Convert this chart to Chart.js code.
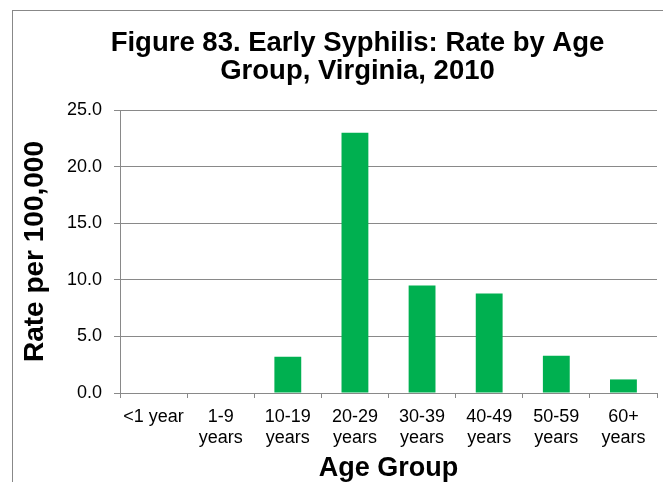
<!DOCTYPE html>
<html lang="en">
<head>
  <meta charset="UTF-8">
  <title>Early Syphilis: Rate by Age Group</title>
  <script src="https://cdn.jsdelivr.net/npm/chart.js"></script>
  <style>
    html, body { margin: 0; padding: 0; background: #ffffff; }
    .frame {
      position: absolute; left: 12px; top: 10px;
      width: 700px; height: 600px;
      border: 1px solid #888888;
    }
    canvas { position: absolute; left: 0; top: 0; }
  </style>
</head>
<body>
  <div class="frame"></div>
  <canvas id="ageChart" width="663" height="482"></canvas>

  <script>
    // Data
    const titleLines = ['Figure 83. Early Syphilis: Rate by Age', 'Group, Virginia, 2010'];
    const ageGroups = [
      '<1 year',
      ['1-9', 'years'],
      ['10-19', 'years'],
      ['20-29', 'years'],
      ['30-39', 'years'],
      ['40-49', 'years'],
      ['50-59', 'years'],
      ['60+', 'years']
    ];
    const rates = [0, 0, 3.2, 23.0, 9.5, 8.8, 3.3, 1.2];
    const yTickValues = [0, 5, 10, 15, 20, 25];

    const fontFamily = "'Liberation Sans', Arial, sans-serif";
    const gridGray = '#898989';

    // the original chart frame is wider than the crop, so the title is
    // centred on the frame (x 12..703) rather than on the canvas
    const titleShift = {
      id: 'titleShift',
      afterLayout: function(chart) {
        chart.titleBlock.left = 12;
        chart.titleBlock.right = 703;
      }
    };

    const ctx = document.getElementById('ageChart').getContext('2d');
    new Chart(ctx, {
      type: 'bar',
      data: {
        labels: ageGroups,
        datasets: [{
          label: 'Rate per 100,000',
          data: rates,
          backgroundColor: '#00B050',
          borderWidth: 0,
          barPercentage: 0.4,
          categoryPercentage: 1.0
        }]
      },
      plugins: [titleShift],
      options: {
        responsive: false,
        animation: false,
        layout: {
          padding: { top: 0, left: 0, right: 6, bottom: 0 }
        },
        plugins: {
          legend: { display: false },
          tooltip: { enabled: false },
          title: {
            display: true,
            text: titleLines,
            color: '#000000',
            font: { family: fontFamily, size: 27.5, weight: 'bold', lineHeight: 1.02 },
            padding: { top: 29, bottom: 25 }
          }
        },
        scales: {
          x: {
            afterFit: function(scale) { scale.height = 89; },
            grid: {
              drawOnChartArea: false,
              drawTicks: true,
              tickLength: 5,
              color: gridGray
            },
            border: { display: true, color: gridGray, width: 1 },
            ticks: {
              color: '#000000',
              font: { family: fontFamily, size: 18, lineHeight: 1.167 },
              padding: 9,
              maxRotation: 0,
              autoSkip: false
            },
            title: {
              display: true,
              text: 'Age Group',
              color: '#000000',
              font: { family: fontFamily, size: 27, weight: 'bold', lineHeight: 1.0 },
              padding: { top: 0, bottom: 0 }
            }
          },
          y: {
            min: yTickValues[0],
            max: yTickValues[yTickValues.length - 1],
            afterFit: function(scale) { scale.width = 120; },
            afterBuildTicks: function(scale) {
              scale.ticks = yTickValues.map(function(v) { return { value: v }; });
            },
            grid: {
              color: gridGray,
              tickLength: 6,
              drawTicks: true
            },
            border: { display: true, color: gridGray, width: 1 },
            ticks: {
              color: '#000000',
              font: { family: fontFamily, size: 18 },
              padding: 12,
              callback: function(value) { return Number(value).toFixed(1); }
            },
            title: {
              display: true,
              text: 'Rate per 100,000',
              color: '#000000',
              font: { family: fontFamily, size: 28, weight: 'bold', lineHeight: 1.0 },
              padding: { top: 21, bottom: 0 }
            }
          }
        }
      }
    });
  </script>
</body>
</html>
